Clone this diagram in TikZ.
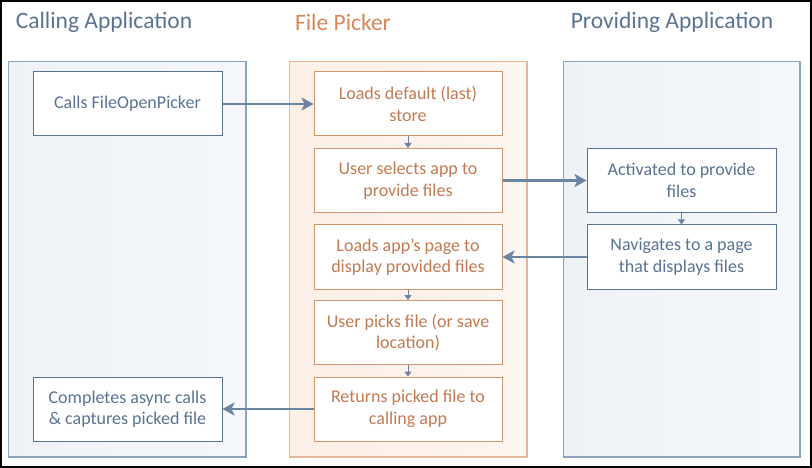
\documentclass[tikz,border=0pt]{standalone}
\usepackage{fontspec}
\setmainfont{Carlito}
\usetikzlibrary{arrows.meta}
\definecolor{slate}{HTML}{5A7394}
\definecolor{slateline}{HTML}{8DA2BC}
\definecolor{slatefill}{HTML}{EEF2F6}
\definecolor{orng}{HTML}{D9875A}
\definecolor{orngtext}{HTML}{C47A52}
\definecolor{orngline}{HTML}{E6B597}
\definecolor{orngbox}{HTML}{D39670}
\definecolor{orngfill}{HTML}{FCEFE6}
\definecolor{arrowc}{HTML}{6B84A2}
\tikzset{
  title/.style={font=\fontsize{23.5}{28}\selectfont},
  panelL/.style={draw=slateline, line width=1.3pt, left color=slatefill, right color=slatefill!60!white},
  panelO/.style={draw=orngline, line width=1.3pt, left color=orngfill, right color=orngfill!60!white},
  bluebox/.style={draw=slate, line width=1pt, fill=white, text=slate, minimum width=189pt, minimum height=64pt, inner sep=0pt, align=center, font=\fontsize{18}{21.5}\selectfont},
  orangebox/.style={draw=orngbox, line width=1pt, fill=white, text=orngtext, minimum width=188pt, minimum height=64pt, inner sep=0pt, align=center, font=\fontsize{18}{21.5}\selectfont},
  bigarrow/.style={draw=arrowc, line width=2.8pt, -{Stealth[length=12pt,width=13pt,inset=3pt]}},
  smallarrow/.style={draw=arrowc, line width=1pt, -{Triangle[length=5pt,width=7pt]}}
}
\begin{document}
\begin{tikzpicture}[x=1pt,y=-1pt]
\useasboundingbox (0,0) rectangle (812,468);
\fill[white] (0,0) rectangle (812,468);
\draw[line width=2.2pt] (1.1,1.1) rectangle (810.9,466.9);
% titles
\node[title, text=slate] (tL) at (104,22) {Calling Application};
\node[title, text=orng] (tM) at (343,22) {File Picker};
\node[title, text=slate] (tR) at (672,22) {Providing Application};
% panels
\path[panelL] (8.5,61.5) rectangle (246,457);
\path[panelO] (289.5,61.5) rectangle (527,457);
\path[panelL] (563.5,61.5) rectangle (800,457);
% left boxes
\node[bluebox] (calls) at (127.5,104) {Calls FileOpenPicker};
\node[bluebox] (completes) at (127.5,409) {Completes async calls\\\& captures picked file};
% middle boxes
\node[orangebox] (m1) at (408,104) {Loads default (last)\\store};
\node[orangebox] (m2) at (408,180.5) {User selects app to\\provide files};
\node[orangebox] (m3) at (408,257) {Loads app’s page to\\display provided files};
\node[orangebox] (m4) at (408,332.5) {User picks file (or save\\location)};
\node[orangebox] (m5) at (408,409) {Returns picked file to\\calling app};
% right boxes
\node[bluebox] (r1) at (681.5,180.5) {Activated to provide\\files};
\node[bluebox] (r2) at (681.5,257) {Navigates to a page\\that displays files};
% arrows
\draw[bigarrow] (calls.east) -- (m1.west);
\draw[bigarrow] (m2.east) -- (r1.west);
\draw[bigarrow] (r2.west) -- (m3.east);
\draw[bigarrow] (m5.west) -- (completes.east);
\draw[smallarrow] (m1.south) -- (m2.north);
\draw[smallarrow] (m3.south) -- (m4.north);
\draw[smallarrow] (m4.south) -- (m5.north);
\draw[smallarrow] (r1.south) -- (r2.north);
\end{tikzpicture}
\end{document}
